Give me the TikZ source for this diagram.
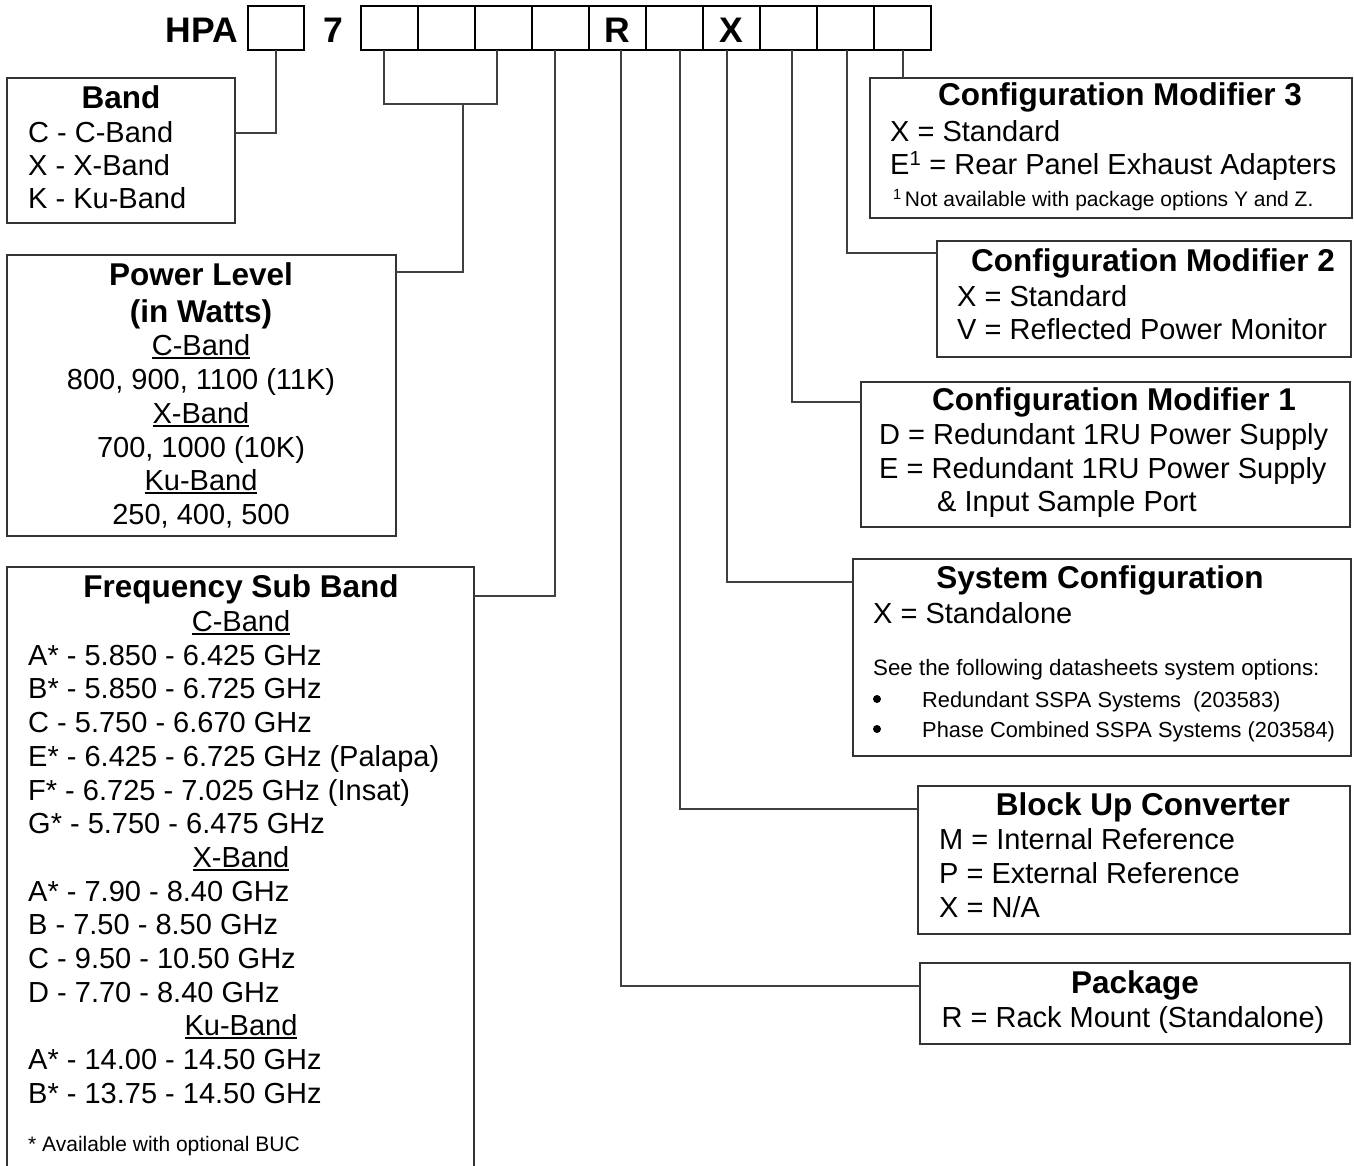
\documentclass[tikz,border=0pt]{standalone}
\usepackage{fontspec}
\setmainfont{Liberation Sans}
\newcommand\myfb{\fontsize{29}{34}\selectfont}
\newcommand\myft{\fontsize{31.5}{36}\selectfont\bfseries}
\newcommand\myfs{\fontsize{21}{25}\selectfont}
\newcommand\myfm{\fontsize{22.3}{27}\selectfont}
\newcommand\myfn{\fontsize{21.8}{26}\selectfont}
\newcommand\myfh{\fontsize{35.5}{40}\selectfont\bfseries}
\newcommand\myul[1]{\setbox0=\hbox{#1}\rlap{\rule[-3.5pt]{\wd0}{2pt}}\box0}
\begin{document}
\begin{tikzpicture}[x=1pt,y=-1pt,
  infobox/.style={draw=black!80, line width=1.5pt, inner sep=0pt, outer sep=0pt, anchor=north west},
  cell/.style={draw=black, line width=2pt, minimum width=57pt, minimum height=44pt, inner sep=0pt, outer sep=0pt, anchor=north west},
  conn/.style={draw=black!75, line width=1.3pt},
  tl/.style={anchor=base west, inner sep=0pt, font=\myfb},
  tc/.style={anchor=base, inner sep=0pt, font=\myfb},
  ttl/.style={anchor=base, inner sep=0pt, font=\myft},
  hdr/.style={anchor=base, inner sep=0pt, font=\myfh},
  bul/.style={circle, fill=black, inner sep=0pt, minimum size=8pt}]
\useasboundingbox (0,0) rectangle (1354,1166);
\clip (0,0) rectangle (1354,1166);
% header
\node[hdr] (hpa) at (202,43) {HPA};
\node[cell, minimum width=56pt] (b1) at (248,6) {};
\node[hdr] (seven) at (333,43) {7};
\node[cell] (c1) at (361,6) {};
\node[cell] (c2) at (418,6) {};
\node[cell] (c3) at (475,6) {};
\node[cell] (c4) at (532,6) {};
\node[cell] (c5) at (589,6) {};
\node[cell] (c6) at (646,6) {};
\node[cell] (c7) at (703,6) {};
\node[cell] (c8) at (760,6) {};
\node[cell] (c9) at (817,6) {};
\node[cell] (c10) at (874,6) {};
\node[hdr] (lr) at (c5.center |- 0,43) {R};
\node[hdr] (lx) at (c7.center |- 0,43) {X};
% boxes
\node[infobox, minimum width=228pt, minimum height=145pt] (band) at (7,78) {};
\node[infobox, minimum width=389pt, minimum height=281pt] (power) at (7,255) {};
\node[infobox, minimum width=467pt, minimum height=700pt] (freq) at (7,567) {};
\node[infobox, minimum width=482pt, minimum height=140pt] (cm3) at (870,78) {};
\node[infobox, minimum width=414pt, minimum height=116pt] (cm2) at (937,241) {};
\node[infobox, minimum width=489pt, minimum height=145pt] (cm1) at (861,382) {};
\node[infobox, minimum width=498pt, minimum height=197pt] (sys) at (853,559) {};
\node[infobox, minimum width=432pt, minimum height=148pt] (buc) at (918,786) {};
\node[infobox, minimum width=430pt, minimum height=81pt] (pkg) at (920,963) {};
% connectors
\draw[conn] (b1.south) |- (band.east |- 0,133);
\draw[conn] (c1.south -| 384,0) |- (497,104) -- (c3.south -| 497,0);
\draw[conn] (463,104) |- (power.east |- 0,272);
\draw[conn] (c4.south -| 555,0) |- (freq.east |- 0,596);
\draw[conn] (c5.south -| 621,0) |- (pkg.west |- 0,986);
\draw[conn] (c6.south -| 680,0) |- (buc.west |- 0,809);
\draw[conn] (c7.south -| 727,0) |- (sys.west |- 0,582);
\draw[conn] (c8.south -| 792,0) |- (cm1.west |- 0,402);
\draw[conn] (c9.south -| 847,0) |- (cm2.west |- 0,253);
\draw[conn] (c10.south -| 903,0) -- (cm3.north -| 903,0);
% Band
\node[ttl] (bandt) at (121,109) {Band};
\node[tl] (band1) at (28,143) {C - C-Band};
\node[tl] (band2) at (28,176) {X - X-Band};
\node[tl] (band3) at (28,209) {K - Ku-Band};
% Power
\node[ttl] (pw1) at (201,285) {Power Level};
\node[ttl] (pw2) at (201,322) {(in Watts)};
\node[tc] (pw3) at (201,355) {\myul{C-Band}};
\node[tc] (pw4) at (201,389) {800, 900, 1100 (11K)};
\node[tc] (pw5) at (201,423) {\myul{X-Band}};
\node[tc] (pw6) at (201,457) {700, 1000 (10K)};
\node[tc] (pw7) at (201,490) {\myul{Ku-Band}};
\node[tc] (pw8) at (201,524) {250, 400, 500};
% Frequency
\node[ttl] (fq0) at (241,597) {Frequency Sub Band};
\node[tc] (fq1) at (241,631) {\myul{C-Band}};
\node[tl] (fq2) at (28,665) {A* - 5.850 - 6.425 GHz};
\node[tl] (fq3) at (28,698) {B* - 5.850 - 6.725 GHz};
\node[tl] (fq4) at (28,732) {C - 5.750 - 6.670 GHz};
\node[tl] (fq5) at (28,766) {E* - 6.425 - 6.725 GHz (Palapa)};
\node[tl] (fq6) at (28,800) {F* - 6.725 - 7.025 GHz (Insat)};
\node[tl] (fq7) at (28,833) {G* - 5.750 - 6.475 GHz};
\node[tc] (fq8) at (241,867) {\myul{X-Band}};
\node[tl] (fq9) at (28,901) {A* - 7.90 - 8.40 GHz};
\node[tl] (fq10) at (28,934) {B - 7.50 - 8.50 GHz};
\node[tl] (fq11) at (28,968) {C - 9.50 - 10.50 GHz};
\node[tl] (fq12) at (28,1002) {D - 7.70 - 8.40 GHz};
\node[tc] (fq13) at (241,1035) {\myul{Ku-Band}};
\node[tl] (fq14) at (28,1069) {A* - 14.00 - 14.50 GHz};
\node[tl] (fq15) at (28,1103) {B* - 13.75 - 14.50 GHz};
\node[tl, font=\myfs] (fq16) at (28,1151) {* Available with optional BUC};
% CM3
\node[ttl] (m3t) at (1120,106) {Configuration Modifier 3};
\node[tl] (m31) at (890,142) {X = Standard};
\node[tl] (m32) at (890,175) {E\textsuperscript{1} = Rear Panel Exhaust Adapters};
\node[tl, font=\myfs] (m33) at (893,207) {\textsuperscript{1}\hspace{3pt}Not available with package options Y and Z.};
% CM2
\node[ttl] (m2t) at (1153,272) {Configuration Modifier 2};
\node[tl] (m21) at (957,306) {X = Standard};
\node[tl] (m22) at (957,339) {V = Reflected Power Monitor};
% CM1
\node[ttl] (m1t) at (1114,410) {Configuration Modifier 1};
\node[tl] (m11) at (879,444) {D = Redundant 1RU Power Supply};
\node[tl] (m12) at (879,478) {E = Redundant 1RU Power Supply};
\node[tl] (m13) at (937,511) {\& Input Sample Port};
% System configuration
\node[ttl] (syt) at (1100,588) {System Configuration};
\node[tl] (sy1) at (873,623) {X = Standalone};
\node[tl, font=\myfm] (sy2) at (873,675) {See the following datasheets system options:};
\node[bul] (sy3b) at (877,699) {};
\node[tl, font=\myfn] (sy3) at (922,707) {Redundant SSPA Systems\ \ (203583)};
\node[bul] (sy4b) at (877,729) {};
\node[tl, font=\myfn] (sy4) at (922,737) {Phase Combined SSPA Systems (203584)};
% BUC
\node[ttl] (but) at (1143,815) {Block Up Converter};
\node[tl] (bu1) at (939,849) {M = Internal Reference};
\node[tl] (bu2) at (939,883) {P = External Reference};
\node[tl] (bu3) at (939,917) {X = N/A};
% Package
\node[ttl] (pkt) at (1135,993) {Package};
\node[tc] (pk1) at (1133,1027) {R = Rack Mount (Standalone)};
\end{tikzpicture}
\end{document}
